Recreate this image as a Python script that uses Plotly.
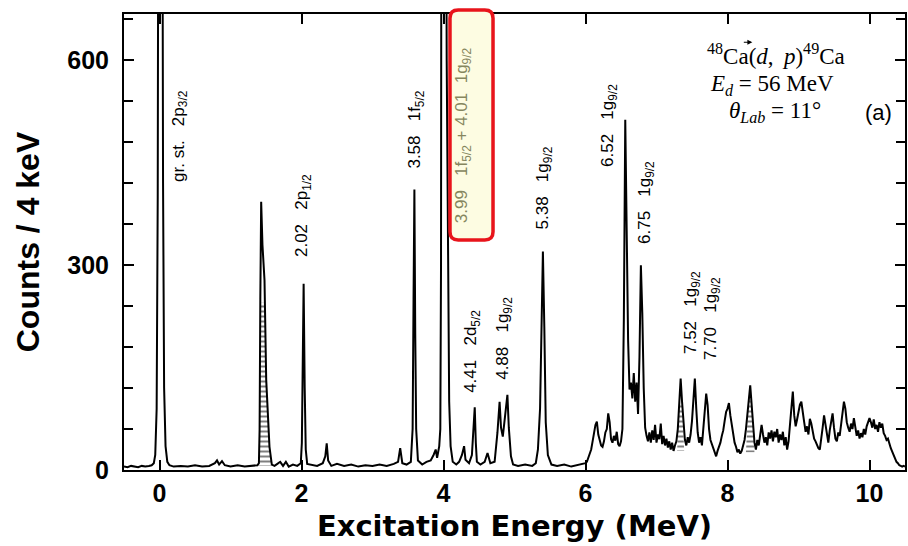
import plotly.graph_objects as go

# ---------------- data ----------------
energy_low = [-0.50, -0.45, -0.40, -0.35, -0.30, -0.25, -0.20, -0.15, -0.11, -0.08,
              -0.06, -0.04, -0.025, -0.012, 0.01, 0.035, 0.05, 0.065, 0.085, 0.11,
              0.14, 0.20, 0.30, 0.40, 0.50, 0.60, 0.70, 0.78, 0.81, 0.84,
              0.88, 0.92, 1.00, 1.10, 1.20, 1.30, 1.38, 1.40, 1.41, 1.42,
              1.432, 1.45, 1.479, 1.503, 1.549, 1.582, 1.62, 1.66, 1.70, 1.74,
              1.78, 1.82, 1.88, 1.94, 1.99, 2.005, 2.018, 2.03, 2.045, 2.06,
              2.08, 2.15, 2.22, 2.30, 2.335, 2.355, 2.375, 2.42, 2.50, 2.60,
              2.70, 2.80, 2.90, 3.00, 3.10, 3.20, 3.30, 3.36, 3.39, 3.42,
              3.48, 3.54, 3.565, 3.578, 3.59, 3.602, 3.615, 3.64, 3.70, 3.76,
              3.82, 3.86, 3.89, 3.91, 3.94, 3.955, 3.965, 3.975, 4.00, 4.02,
              4.045, 4.065, 4.08, 4.10, 4.13, 4.18, 4.22, 4.26, 4.29, 4.31,
              4.36, 4.40, 4.425, 4.44, 4.455, 4.47, 4.52, 4.58, 4.62, 4.66,
              4.72, 4.76, 4.79, 4.81, 4.835, 4.86, 4.90, 4.92, 4.95, 4.98,
              5.05, 5.15, 5.25, 5.30, 5.33, 5.36, 5.385, 5.40, 5.42, 5.44,
              5.47, 5.52, 5.60, 5.70, 5.80, 5.90, 5.96]
counts_low = [5, 4, 6, 5, 4, 6, 5, 6, 7, 10,
              22, 90, 400, 1200, 3000, 1200, 420, 120, 35, 12,
              7, 5, 6, 5, 7, 5, 6, 10, 14, 8,
              13, 7, 5, 7, 5, 6, 7, 10, 60, 250,
              393, 330, 278, 132, 34, 8, 6, 9, 12, 6,
              12, 5, 8, 6, 10, 40, 150, 273, 120, 30,
              9, 7, 6, 10, 20, 39, 14, 6, 9, 6,
              8, 5, 7, 6, 8, 6, 9, 12, 32, 10,
              8, 12, 60, 250, 411, 200, 60, 14, 8, 12,
              14, 22, 30, 18, 35, 60, 300, 1500, 3000, 1500,
              600, 250, 100, 35, 12, 8, 12, 22, 35, 15,
              10, 22, 60, 92, 40, 12, 8, 12, 25, 10,
              12, 55, 100, 62, 49, 72, 110, 62, 20, 8,
              6, 8, 6, 10, 30, 90, 260, 320, 210, 70,
              22, 8, 6, 8, 5, 7, 9]

# 6.00 ... 10.50 MeV in 0.02 MeV steps
counts_high = [
    10, 12, 18, 25, 30, 42, 55, 66, 71, 52,
    44, 36, 34, 42, 55, 60, 83, 70, 45, 40,
    50, 43, 56, 38, 35, 42, 60, 220, 513, 330,
    190, 118, 128, 105, 142, 100, 128, 82, 165, 300,
    230, 120, 62, 50, 42, 55, 40, 58, 44, 66,
    40, 52, 45, 68, 38, 50, 36, 46, 33, 42,
    30, 40, 28, 36, 42, 60, 95, 134, 100, 62,
    44, 36, 48, 40, 52, 72, 105, 134, 90, 55,
    40, 48, 36, 58, 80, 112, 95, 60, 44, 38,
    30, 24, 20, 28, 34, 40, 50, 58, 72, 85,
    90, 98, 80, 66, 52, 40, 34, 26, 30, 24,
    28, 36, 44, 60, 82, 110, 124, 96, 60, 40,
    30, 44, 36, 50, 66, 52, 40, 48, 36, 55,
    46, 58, 42, 56, 48, 60, 40, 52, 44, 56,
    36, 48, 30, 42, 70, 90, 115, 80, 64, 74,
    88, 96, 100, 82, 70, 56, 64, 52, 75, 68,
    55, 46, 42, 36, 32, 30, 44, 62, 80, 66,
    48, 40, 58, 74, 83, 62, 46, 42, 55, 50,
    70, 88, 100, 90, 70, 62, 56, 68, 60, 76,
    64, 50, 58, 46, 54, 48, 60, 52, 64, 72,
    76, 70, 62, 74, 60, 66, 56, 70, 62, 68,
    54, 50, 44, 46, 38, 32, 27, 22, 16, 12,
    10, 7, 6, 5, 6, 5]
energy_high = [round(6.00 + 0.02 * i, 2) for i in range(len(counts_high))]

# hatched (contaminant) peaks
hatch_a_x = [1.402, 1.42, 1.485, 1.503, 1.549, 1.582]
hatch_a_y = [6, 245, 245, 132, 34, 6]
hatch_b_x = [7.29, 7.32, 7.36, 7.39]
hatch_b_y = [28, 95, 100, 28]
hatch_c_x = [8.26, 8.30, 8.34, 8.38]
hatch_c_y = [26, 110, 96, 26]

NB = "\u00a0"
label_text = [
    "gr." + NB + "st." + NB * 3 + "2p<sub>3/2</sub>",
    "2.02" + NB * 3 + "2p<sub>1/2</sub>",
    "3.58" + NB * 3 + "1f<sub>5/2</sub>",
    "4.41" + NB * 3 + "2d<sub>5/2</sub>",
    "4.88" + NB * 3 + "1g<sub>9/2</sub>",
    "5.38" + NB * 3 + "1g<sub>9/2</sub>",
    "6.52" + NB * 3 + "1g<sub>9/2</sub>",
    "6.75" + NB * 3 + "1g<sub>9/2</sub>",
    "7.52" + NB * 3 + "1g<sub>9/2</sub>",
    "7.70" + NB * 3 + "1g<sub>9/2</sub>",
]
label_x = [0.28, 2.03, 3.62, 4.41, 4.86, 5.42, 6.34, 6.86, 7.51, 7.79]
label_y = [490, 373, 498, 174, 193, 413, 505, 392, 231, 222]

highlight_text = ("3.99" + NB * 3 + "1f<sub>5/2</sub>" + NB + "+" + NB +
                  "4.01" + NB * 2 + "1g<sub>9/2</sub>")
highlight_x = 4.27
highlight_y = 490

x_ticks = [0, 2, 4, 6, 8, 10]
y_ticks = [0, 300, 600]

# ---------------- figure ----------------
fig = go.Figure()

hatch = dict(shape="-", fgcolor="black", bgcolor="white", size=5, solidity=0.4)
for hx, hy in [(hatch_a_x, hatch_a_y), (hatch_b_x, hatch_b_y), (hatch_c_x, hatch_c_y)]:
    fig.add_trace(go.Scatter(x=hx, y=hy, mode="lines", fill="toself",
                             fillcolor="white", fillpattern=hatch,
                             line=dict(width=0), hoverinfo="skip", showlegend=False))

fig.add_trace(go.Scatter(x=energy_low + energy_high, y=counts_low + counts_high,
                         mode="lines", line=dict(color="black", width=2),
                         showlegend=False))

label_font = dict(family="Liberation Sans, Arial, sans-serif", size=17, color="black")
for t, x, y in zip(label_text, label_x, label_y):
    fig.add_annotation(x=x, y=y, xref="x", yref="y", text=t, textangle=-90,
                       showarrow=False, font=label_font,
                       xanchor="center", yanchor="middle")

# highlighted box (rounded) in paper coordinates
x0, x1, y0, y1 = 0.4174, 0.4725, 0.5044, 1.0088
rx, ry = 0.0105, 0.018
path = (f"M {x0+rx},{y0} L {x1-rx},{y0} Q {x1},{y0} {x1},{y0+ry} "
        f"L {x1},{y1-ry} Q {x1},{y1} {x1-rx},{y1} L {x0+rx},{y1} "
        f"Q {x0},{y1} {x0},{y1-ry} L {x0},{y0+ry} Q {x0},{y0} {x0+rx},{y0} Z")
fig.add_shape(type="path", path=path, xref="paper", yref="paper",
              line=dict(color="#e8141b", width=3.5), fillcolor="#fdfce2",
              layer="above")
fig.add_annotation(x=highlight_x, y=highlight_y, xref="x", yref="y",
                   text=highlight_text, textangle=-90, showarrow=False,
                   font=dict(family="Liberation Sans, Arial, sans-serif", size=17,
                             color="#86865e"),
                   xanchor="center", yanchor="middle")

serif = dict(family="Liberation Serif, Times New Roman, serif", size=23, color="black")
fig.add_annotation(x=0.835, y=0.912, xref="paper", yref="paper", showarrow=False,
                   text="<sup>48</sup>Ca(<i>d</i>,\u2009 <i>p</i>)<sup>49</sup>Ca",
                   font=serif, xanchor="center", yanchor="middle")
# vector arrow over the d (arrow only, no text)
fig.add_annotation(x=0.8045, y=0.938, xref="paper", yref="paper", text="",
                   showarrow=True, arrowhead=2, arrowsize=0.9, arrowwidth=1.1,
                   arrowcolor="black", ax=-10, ay=0, standoff=0, startstandoff=0)
fig.add_annotation(x=0.830, y=0.845, xref="paper", yref="paper", showarrow=False,
                   text="<i>E<sub>d</sub></i> = 56 MeV",
                   font=serif, xanchor="center", yanchor="middle")
fig.add_annotation(x=0.834, y=0.786, xref="paper", yref="paper", showarrow=False,
                   text="<i>θ<sub>Lab</sub></i> = 11°",
                   font=serif, xanchor="center", yanchor="middle")
fig.add_annotation(x=0.966, y=0.783, xref="paper", yref="paper", showarrow=False,
                   text="(a)",
                   font=dict(family="Liberation Sans, Arial, sans-serif", size=22,
                             color="black"),
                   xanchor="center", yanchor="middle")

tick_font = dict(family="Liberation Sans, Arial, sans-serif", size=25,
                 color="black", weight="bold")
fig.update_xaxes(range=[-0.5, 10.5], tickvals=x_ticks, ticks="inside", ticklen=10,
                 tickwidth=2, tickcolor="black", showline=True, linewidth=2,
                 linecolor="black", mirror="ticks", showgrid=False, zeroline=False,
                 tickfont=tick_font, automargin=False,
                 title=dict(text="Excitation Energy (MeV)", standoff=10,
                            font=dict(family="DejaVu Sans, sans-serif", size=29,
                                      color="black", weight="bold")))
fig.update_yaxes(range=[0, 668], tickvals=y_ticks, ticks="inside", ticklen=10,
                 tickwidth=2, tickcolor="black", showline=True, linewidth=2,
                 linecolor="black", mirror="ticks", showgrid=False, zeroline=False,
                 tickfont=tick_font, ticklabelstandoff=8, automargin=False,
                 minor=dict(dtick=60, ticks="inside", ticklen=9, tickwidth=1.5,
                            tickcolor="black", showgrid=False),
                 title=dict(text="Counts / 4 keV", standoff=18,
                            font=dict(family="Liberation Sans, Arial, sans-serif",
                                      size=32, color="black", weight="bold")))

fig.update_layout(width=908, height=546,
                  margin=dict(l=124, r=3, t=14, b=76, autoexpand=False),
                  paper_bgcolor="white", plot_bgcolor="white",
                  showlegend=False)

fig.write_html("out.html", config={"displayModeBar": False},
               post_script="document.body.style.margin='0';"
                           "document.body.style.padding='0';"
                           "document.body.style.overflow='hidden';")
